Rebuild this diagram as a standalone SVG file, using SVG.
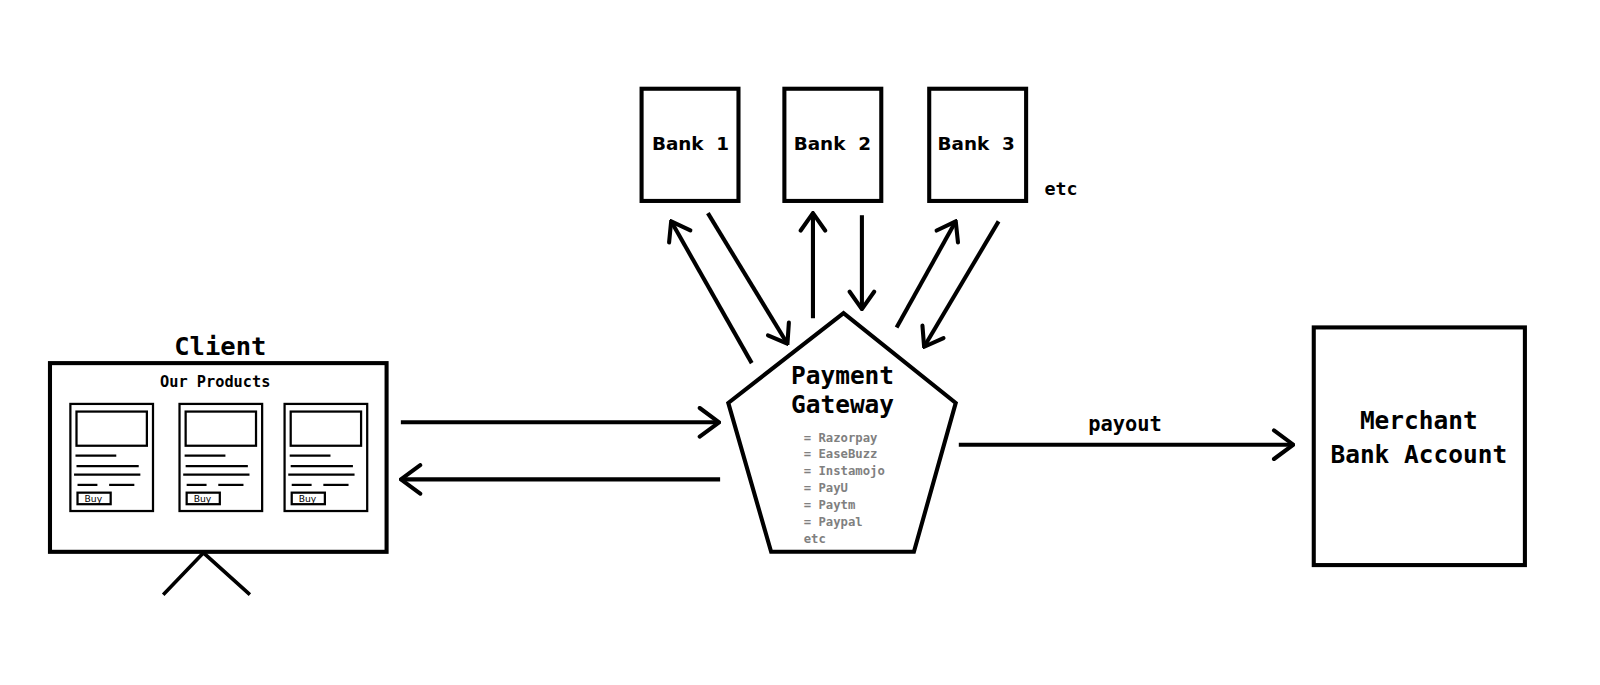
<svg xmlns="http://www.w3.org/2000/svg" xmlns:xlink="http://www.w3.org/1999/xlink" width="1600" height="685" viewBox="0 0 1600 685">
<style>
.box{fill:#fff;stroke:#000;stroke-width:4}
.thin{fill:none;stroke:#000;stroke-width:2.2}
.mono{font-family:"DejaVu Sans Mono","Liberation Mono",monospace;font-weight:bold;fill:#000}
.sans{font-family:"DejaVu Sans","Liberation Sans",sans-serif;font-weight:bold;fill:#000}
.list{font-family:"DejaVu Sans Mono","Liberation Mono",monospace;font-weight:bold;font-size:12px;fill:#808080}
.conn{fill:none;stroke:#000;stroke-width:4}
</style>
<defs>
<marker id="head" viewBox="-22 -16 24 32" refX="0" refY="0" markerWidth="24" markerHeight="32" markerUnits="userSpaceOnUse" orient="auto">
<path d="M-19,-14 L0,0 L-19,14" fill="none" stroke="#000" stroke-width="4" stroke-linecap="round" stroke-linejoin="miter"/>
</marker>
<marker id="headS" viewBox="-20 -15 22 30" refX="0" refY="0" markerWidth="22" markerHeight="30" markerUnits="userSpaceOnUse" orient="auto">
<path d="M-17,-12 L0,0 L-17,12" fill="none" stroke="#000" stroke-width="4" stroke-linecap="round" stroke-linejoin="miter"/>
</marker>
<g id="card">
<rect x="0" y="0" width="81" height="105" class="thin"/>
<rect x="6" y="7.5" width="69" height="33.5" class="thin"/>
<line x1="5" y1="50.7" x2="45" y2="50.7" class="thin"/>
<line x1="6" y1="61" x2="67" y2="61" class="thin"/>
<line x1="3.6" y1="69.3" x2="68.6" y2="69.3" class="thin"/>
<line x1="7" y1="79.4" x2="26.5" y2="79.4" class="thin"/>
<line x1="38" y1="79.4" x2="62.7" y2="79.4" class="thin"/>
<rect x="7" y="87" width="32.5" height="11.3" class="thin"/>
<text x="22.5" y="96.6" text-anchor="middle" font-family="DejaVu Sans, Liberation Sans, sans-serif" font-size="9" fill="#000">Buy</text>
</g>
</defs>
<rect width="1600" height="685" fill="#fff"/>
<g transform="scale(1.02)">

<g id="client">
<text x="216" y="348" text-anchor="middle" class="mono" font-size="25">Client</text>
<rect x="49" y="356" width="330" height="185" class="box"/>
<text x="211" y="379" text-anchor="middle" class="mono" font-size="15">Our Products</text>
<use xlink:href="#card" x="69" y="396"/>
<use xlink:href="#card" x="176" y="396"/>
<use xlink:href="#card" x="279" y="396"/>
<polyline points="160,583 199.5,542 245,583" fill="none" stroke="#000" stroke-width="3.5"/>
</g>

<g id="bank1">
<rect x="629" y="87" width="95" height="110" class="box"/>
<text x="677" y="147" text-anchor="middle" class="sans" font-size="18" xml:space="preserve">Bank  1</text>
</g>
<g id="bank2">
<rect x="769" y="87" width="95" height="110" class="box"/>
<text x="816" y="147" text-anchor="middle" class="sans" font-size="18" xml:space="preserve">Bank  2</text>
</g>
<g id="bank3">
<rect x="911" y="87" width="95" height="110" class="box"/>
<text x="957" y="147" text-anchor="middle" class="sans" font-size="18" xml:space="preserve">Bank  3</text>
</g>
<text x="1024" y="191" class="mono" font-size="18">etc</text>

<g id="gateway">
<polygon points="827,307 714,395 756,541 896,541 937,395" class="box"/>
<text x="826" y="376" text-anchor="middle" class="mono" font-size="24">Payment</text>
<text x="826" y="405" text-anchor="middle" class="mono" font-size="24">Gateway</text>
<text class="list" x="788" y="433">= Razorpay</text>
<text class="list" x="788" y="449.5">= EaseBuzz</text>
<text class="list" x="788" y="466">= Instamojo</text>
<text class="list" x="788" y="482.5">= PayU</text>
<text class="list" x="788" y="499">= Paytm</text>
<text class="list" x="788" y="515.5">= Paypal</text>
<text class="list" x="788" y="532">etc</text>
</g>

<g id="merchant">
<rect x="1288" y="321" width="207" height="233" class="box"/>
<text x="1391" y="421" text-anchor="middle" class="mono" font-size="24">Merchant</text>
<text x="1391" y="453.5" text-anchor="middle" class="mono" font-size="24">Bank Account</text>
</g>

<g id="connectors">
<line x1="393" y1="414" x2="705" y2="414" class="conn" marker-end="url(#head)"/>
<line x1="706" y1="470" x2="393" y2="470" class="conn" marker-end="url(#head)"/>
<line x1="940" y1="436" x2="1268" y2="436" class="conn" marker-end="url(#head)"/>
<text x="1103" y="423" text-anchor="middle" class="mono" font-size="20">payout</text>
<line x1="737" y1="356" x2="658" y2="217" class="conn" marker-end="url(#headS)"/>
<line x1="694" y1="209" x2="772" y2="337" class="conn" marker-end="url(#headS)"/>
<line x1="797" y1="312" x2="797" y2="209" class="conn" marker-end="url(#headS)"/>
<line x1="845" y1="211" x2="845" y2="303" class="conn" marker-end="url(#headS)"/>
<line x1="879" y1="321" x2="937" y2="217" class="conn" marker-end="url(#headS)"/>
<line x1="979" y1="217" x2="906" y2="340" class="conn" marker-end="url(#headS)"/>
</g>
</g>
</svg>
